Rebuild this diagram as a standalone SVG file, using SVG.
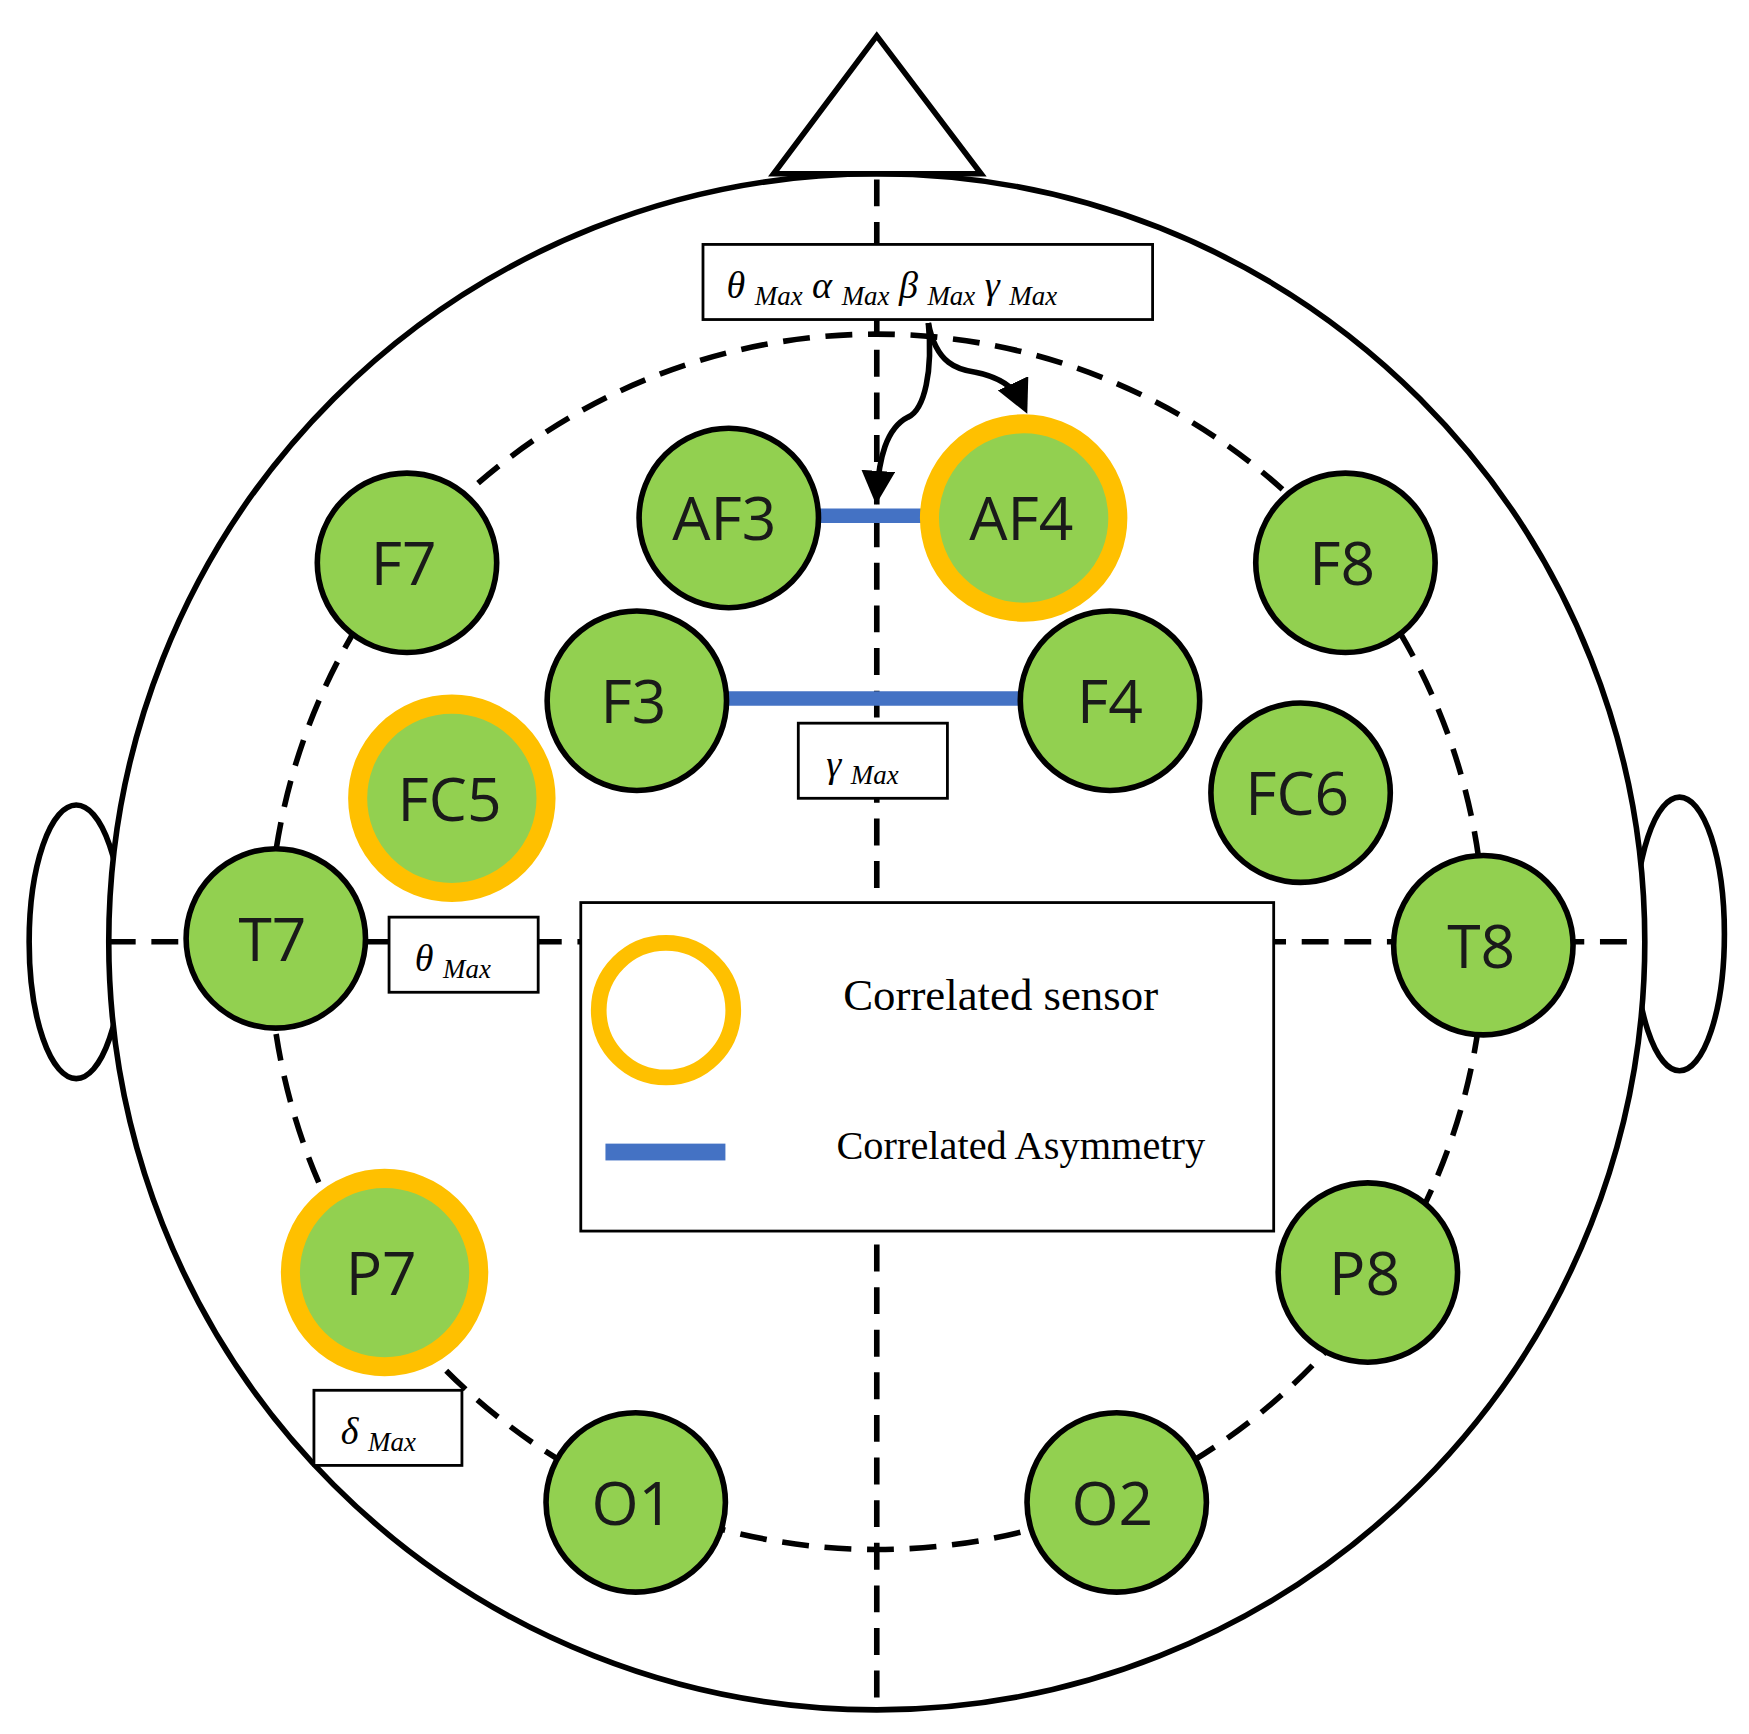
<svg xmlns="http://www.w3.org/2000/svg" width="1749" height="1734" viewBox="0 0 1749 1734">
<defs>
<style>
.ln{fill:none;stroke:#000;stroke-width:5}
.ds{fill:none;stroke:#000;stroke-width:5;stroke-dasharray:24 14}
.el{fill:#92d050;stroke:#000;stroke-width:5}
.eo{fill:#92d050;stroke:#ffc000;stroke-width:17}
.lb{font-family:"Open Sans","Noto Sans",sans-serif;font-size:54px;fill:#1a1a1a;text-anchor:middle}
.bx{fill:#fff;stroke:#000;stroke-width:2.5}
.gk{font-family:"Liberation Serif",serif;font-style:italic;font-size:34px;fill:#000}
.sb{font-size:24px}
.lg{font-family:"Liberation Serif",serif;fill:#000}
.bl{stroke:#4472c4;stroke-width:13}
</style>
<marker id="ah" markerWidth="6" markerHeight="6" refX="4" refY="3" orient="auto" markerUnits="strokeWidth"><path d="M0,0 L6,3 L0,6 Z" fill="#000"/></marker>
</defs>
<rect width="1749" height="1734" fill="#fff"/>
<g transform="scale(1.1212)">
<g id="head">
<ellipse cx="68" cy="840" rx="42" ry="122" class="ln" fill="#fff"/>
<ellipse cx="1498" cy="833" rx="40" ry="122" class="ln" fill="#fff"/>
<circle cx="782" cy="840" r="685" class="ln" style="fill:#fff"/>
<path d="M782,32 L690,155 L875,155 Z" class="ln" fill="#fff" stroke-linejoin="miter"/>
</g>
<g id="connectors">
<line x1="782" y1="160" x2="782" y2="1525" class="ds"/>
<line x1="97" y1="840" x2="1467" y2="840" class="ds"/>
<circle cx="782" cy="840" r="542" class="ds"/>
<line x1="730" y1="460" x2="822" y2="460" class="bl"/>
<line x1="648" y1="623" x2="910" y2="623" class="bl"/>
<path d="M828,288 C832,330 825,365 810,372 C790,382 784,410 782,440" class="ln" marker-end="url(#ah)"/>
<path d="M828,288 C835,325 855,330 870,332 C890,336 905,345 912,360" class="ln" marker-end="url(#ah)"/>
</g>
<g id="AF3"><circle cx="650" cy="462" r="80" class="el"/><text x="646" y="482" class="lb">AF3</text></g>
<g id="AF4"><circle cx="913" cy="462" r="84" class="eo"/><text x="911" y="482" class="lb">AF4</text></g>
<g id="F7"><circle cx="363" cy="502" r="80" class="el"/><text x="360" y="522" class="lb">F7</text></g>
<g id="F8"><circle cx="1200" cy="502" r="80" class="el"/><text x="1197" y="522" class="lb">F8</text></g>
<g id="F3"><circle cx="568" cy="625" r="80" class="el"/><text x="565" y="645" class="lb">F3</text></g>
<g id="F4"><circle cx="990" cy="625" r="80" class="el"/><text x="990" y="645" class="lb">F4</text></g>
<g id="FC5"><circle cx="403" cy="712" r="84" class="eo"/><text x="401" y="732" class="lb">FC5</text></g>
<g id="FC6"><circle cx="1160" cy="707" r="80" class="el"/><text x="1157" y="727" class="lb">FC6</text></g>
<g id="T7"><circle cx="246" cy="837" r="80" class="el"/><text x="243" y="857" class="lb">T7</text></g>
<g id="T8"><circle cx="1323" cy="843" r="80" class="el"/><text x="1321" y="863" class="lb">T8</text></g>
<g id="P7"><circle cx="343" cy="1135" r="84" class="eo"/><text x="340" y="1155" class="lb">P7</text></g>
<g id="P8"><circle cx="1220" cy="1135" r="80" class="el"/><text x="1217" y="1155" class="lb">P8</text></g>
<g id="O1"><circle cx="567" cy="1340" r="80" class="el"/><text x="564" y="1360" class="lb">O1</text></g>
<g id="O2"><circle cx="996" cy="1340" r="80" class="el"/><text x="992" y="1360" class="lb">O2</text></g>
<g id="box-top"><rect x="627" y="218" width="401" height="67" class="bx"/>
<text x="648" y="266" class="gk">θ <tspan class="sb" dy="6">Max</tspan><tspan dy="-6"> α </tspan><tspan class="sb" dy="6">Max</tspan><tspan dy="-6"> β </tspan><tspan class="sb" dy="6">Max</tspan><tspan dy="-6"> γ </tspan><tspan class="sb" dy="6">Max</tspan></text></g>
<g id="box-gamma"><rect x="712" y="645" width="133" height="67" class="bx"/><text x="737" y="693" class="gk">γ <tspan class="sb" dy="6">Max</tspan></text></g>
<g id="box-theta"><rect x="347" y="818" width="133" height="67" class="bx"/><text x="370" y="866" class="gk">θ <tspan class="sb" dy="6">Max</tspan></text></g>
<g id="box-delta"><rect x="280" y="1240" width="132" height="67" class="bx"/><text x="304" y="1288" class="gk">δ <tspan class="sb" dy="6">Max</tspan></text></g>
<g id="legend">
<rect x="518" y="805" width="618" height="293" class="bx"/>
<circle cx="594" cy="901" r="60" fill="none" stroke="#ffc000" stroke-width="14"/>
<text x="752" y="901" class="lg" font-size="40">Correlated sensor</text>
<rect x="540" y="1020" width="107" height="15" fill="#4472c4"/>
<text x="746" y="1034" class="lg" font-size="36">Correlated Asymmetry</text>
</g>
</g>
</svg>
